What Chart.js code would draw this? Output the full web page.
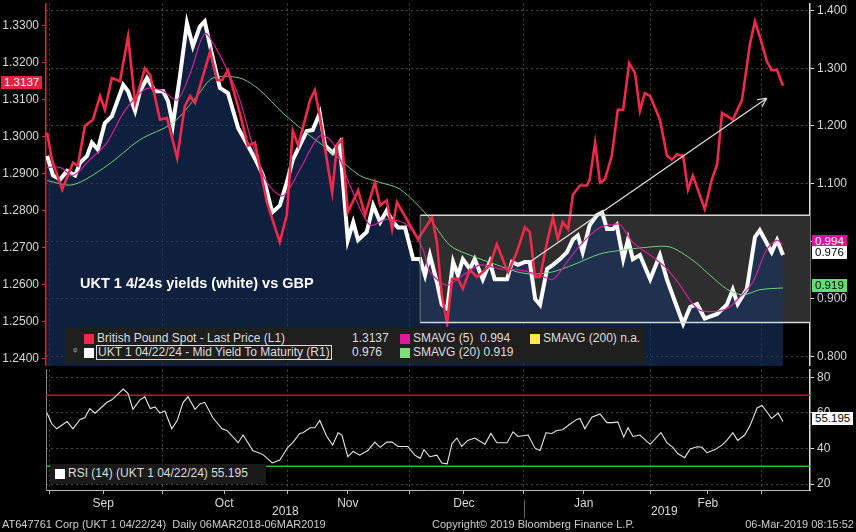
<!DOCTYPE html>
<html><head><meta charset="utf-8">
<script src="https://cdn.jsdelivr.net/npm/chart.js@4/dist/chart.umd.min.js"></script>
<style>
body{margin:0;background:#000;width:856px;height:532px;overflow:hidden;position:relative;font-family:"Liberation Sans",Arial,sans-serif;}
canvas{position:absolute;left:0;}
.t{position:absolute;white-space:nowrap;color:#ddd;font-size:12px;}
.sq{position:absolute;width:10px;height:10px;}
.tag{position:absolute;font-size:11.5px;padding:0 3px;line-height:13px;}
</style></head><body>
<canvas id="top" width="856" height="370" style="top:0"></canvas>
<canvas id="bot" width="856" height="166" style="top:366px"></canvas>

<div class="t" style="left:80px;top:275px;font-size:14.5px;font-weight:bold;color:#fff;">UKT 1 4/24s yields (white) vs GBP</div>

<div style="position:absolute;left:65px;top:327px;width:580px;height:36px;background:#1f1f1f;"></div>
<div class="sq" style="left:84px;top:334px;background:#f0284a"></div>
<div class="t" style="left:97px;top:331px;">British Pound Spot - Last Price (L1)</div>
<div class="t" style="left:352px;top:331px;">1.3137</div>
<div class="sq" style="left:400px;top:334px;background:#e0189e"></div>
<div class="t" style="left:413px;top:331px;">SMAVG (5)&nbsp;&nbsp;0.994</div>
<div class="sq" style="left:530px;top:334px;background:#ffe94a"></div>
<div class="t" style="left:543px;top:331px;">SMAVG (200) n.a.</div>
<div class="t" style="left:73px;top:345px;font-size:10px;color:#999;">ᵠ</div>
<div class="sq" style="left:84px;top:348px;background:#fff"></div>
<div class="t" style="left:96px;top:345px;border:1px solid #ddd;padding:0 1px;line-height:13px;">UKT 1 04/22/24 - Mid Yield To Maturity (R1)</div>
<div class="t" style="left:352px;top:345px;">0.976</div>
<div class="sq" style="left:400px;top:348px;background:#7be07b"></div>
<div class="t" style="left:413px;top:345px;">SMAVG (20) 0.919</div>

<div class="tag" style="left:1px;top:76px;background:#e8203c;color:#fff;">1.3137</div>
<div class="tag" style="left:812px;top:235px;background:#e0109a;color:#fff;">0.994</div>
<div class="tag" style="left:812px;top:246px;background:#fff;color:#000;">0.976</div>
<div class="tag" style="left:812px;top:279px;background:#5fdf6f;color:#000;">0.919</div>

<div style="position:absolute;left:50px;top:464px;width:216px;height:20px;background:#1a1a1a;"></div>
<div class="sq" style="left:55px;top:469px;background:#fff"></div>
<div class="t" style="left:68px;top:466px;">RSI (14) (UKT 1 04/22/24) 55.195</div>
<div class="tag" style="left:812px;top:412px;background:#fff;color:#000;">55.195</div>

<div class="t" style="left:272px;top:504px;font-size:12px;">2018</div>
<div class="t" style="left:651px;top:504px;font-size:12px;">2019</div>
<div style="position:absolute;left:524px;top:500px;width:1px;height:18px;background:#666"></div>
<div class="t" style="left:2px;top:518px;font-size:11px;color:#ccc;">AT647761 Corp (UKT 1 04/22/24)&nbsp;&nbsp;Daily 06MAR2018-06MAR2019</div>
<div class="t" style="left:432px;top:518px;font-size:11px;color:#ccc;">Copyright© 2019 Bloomberg Finance L.P.</div>
<div class="t" style="right:2px;top:518px;font-size:11px;color:#ccc;">06-Mar-2019 08:15:52</div>

<script>
// x values = trading-session index (Aug-29-2018 = 0)
const gbpX=[0.2,1.1,3.0,5.0,5.9,7.2,8.7,10.0,10.9,12.2,13.7,15.2,16.5,18.3,19.3,21.1,22.4,24.3,25.7,26.7,27.6,30.4,31.7,32.6,33.7,35.9,37.4,38.7,40.9,43.3,44.6,45.7,46.7,48.9,49.8,50.7,53.0,53.9,54.8,55.9,57.8,59.1,60.9,61.9,63.1,64.1,65.0,68.9,71.5,72.4,73.3,74.3,75.2,76.3,77.2,78.5,79.8,80.9,82.2,83.5,85.0,85.6,87.2,88.7,89.6,90.6,91.5,92.8,93.9,94.8,95.7,96.7,97.6,98.9,100.2,100.7,101.7,102.6,103.5,104.8,105.9,106.9,108.0,109.1,110.0,110.9,111.9,113.7,115.0,115.9,116.9,118.0,118.9,119.8,122.0,123.3,124.3,125.2,127.2,128.9,130.4,131.3,132.2,133.5,134.4,135.4,136.5];
const gbpY=[1.3010,1.2937,1.2856,1.2929,1.2921,1.3028,1.3045,1.3109,1.3072,1.3158,1.3149,1.3270,1.3090,1.3184,1.3166,1.3045,1.3050,1.2942,1.3082,1.3109,1.3090,1.3230,1.3152,1.3152,1.3179,1.3063,1.2975,1.2983,1.2822,1.2714,1.2787,1.3015,1.2975,1.3098,1.3125,1.3055,1.2848,1.2977,1.2991,1.2795,1.2854,1.2787,1.2875,1.2813,1.2827,1.2749,1.2822,1.2722,1.2781,1.2714,1.2571,1.2494,1.2615,1.2615,1.2588,1.2639,1.2620,1.2633,1.2652,1.2709,1.2652,1.2633,1.2687,1.2754,1.2741,1.2620,1.2620,1.2714,1.2781,1.2722,1.2768,1.2749,1.2843,1.2867,1.2867,1.2883,1.2983,1.2875,1.2883,1.2948,1.3072,1.3072,1.3198,1.3171,1.3069,1.3117,1.3109,1.3045,1.2948,1.2937,1.2951,1.2948,1.2856,1.2894,1.2803,1.2883,1.2924,1.3063,1.3045,1.3098,1.3252,1.3311,1.3270,1.3203,1.3179,1.3179,1.3137];
const ukX=[0.2,1.3,2.6,3.9,5.4,6.3,7.6,8.5,9.6,10.9,12.2,13.3,14.3,15.2,16.5,17.4,18.7,20.2,21.7,22.6,23.5,24.8,26.1,27.2,28.5,29.4,30.7,32.2,33.7,35.6,37.4,39.1,40.2,41.9,43.3,44.6,45.7,47.0,48.3,49.4,50.7,51.7,53.1,54.4,55.9,56.9,57.8,59.4,60.6,61.9,63.1,64.3,65.2,66.5,68.0,69.3,70.2,71.1,72.4,73.3,74.3,75.4,76.3,77.2,78.5,79.4,80.9,82.2,83.1,85.4,86.3,87.4,88.7,89.6,90.6,91.5,92.8,93.9,95.2,96.5,97.6,98.5,99.4,100.7,102.0,103.0,103.9,105.0,105.7,106.9,107.8,108.7,110.0,111.9,113.7,115.0,116.5,118.0,119.3,120.6,122.0,124.3,126.1,127.2,128.1,129.8,131.3,132.2,134.4,135.4,136.5];
const ukY=[1.148,1.114,1.107,1.122,1.114,1.136,1.148,1.171,1.159,1.205,1.217,1.245,1.271,1.260,1.226,1.260,1.283,1.260,1.260,1.243,1.202,1.286,1.378,1.338,1.372,1.381,1.326,1.266,1.257,1.196,1.166,1.136,1.114,1.050,1.062,1.102,1.141,1.166,1.191,1.193,1.222,1.166,1.153,1.171,1.002,1.033,1.002,1.016,1.062,1.033,1.053,1.033,1.024,1.024,0.969,0.969,0.941,0.976,0.929,0.890,0.883,0.964,0.941,0.969,0.952,0.969,0.934,0.964,0.934,0.934,0.964,0.959,0.964,0.964,0.900,0.890,0.952,0.959,0.969,0.981,1.003,1.010,0.981,1.028,1.045,1.050,1.021,1.021,1.028,0.969,1.003,0.969,0.976,0.934,0.976,0.934,0.895,0.857,0.886,0.891,0.866,0.874,0.890,0.916,0.891,0.917,1.007,1.019,0.981,1.002,0.976];
const sma5X=[0.2,2.6,5.0,8.1,11.3,14.3,17.4,19.3,21.7,24.3,26.7,29.4,31.7,34.1,35.9,38.3,40.9,43.9,47.0,50.7,53.1,56.3,60.0,63.1,66.9,69.8,71.1,74.3,77.2,80.4,84.1,87.8,91.5,93.9,96.5,99.4,102.6,105.0,106.3,108.7,111.9,115.0,117.4,120.6,123.0,126.1,128.5,130.9,133.5,135.4,136.5];
const sma5Y=[1.128,1.128,1.114,1.141,1.171,1.222,1.257,1.266,1.260,1.245,1.291,1.360,1.331,1.286,1.245,1.166,1.102,1.079,1.124,1.183,1.171,1.097,1.028,1.038,1.028,0.986,0.947,0.924,0.941,0.959,0.952,0.950,0.941,0.934,0.964,0.998,1.024,1.029,1.029,0.998,0.976,0.952,0.924,0.883,0.878,0.883,0.903,0.929,0.986,1.002,0.994];
const sma20X=[0.2,5.0,11.3,17.4,23.5,28.0,30.9,35.9,39.6,43.9,48.9,53.1,58.1,61.9,65.6,70.6,74.8,78.5,83.5,87.2,90.2,93.9,97.6,102.6,106.3,111.9,115.6,119.8,123.0,126.1,129.1,132.2,136.5];
const sma20Y=[1.105,1.098,1.131,1.176,1.205,1.252,1.283,1.283,1.262,1.222,1.183,1.153,1.114,1.102,1.090,1.045,0.993,0.976,0.959,0.947,0.943,0.947,0.959,0.978,0.984,0.990,0.990,0.967,0.941,0.917,0.907,0.916,0.919];
const rsiX=[0.2,1.1,2.0,3.9,5.0,6.3,7.2,8.1,9.1,11.3,12.2,14.3,15.2,16.1,17.4,18.3,19.3,20.2,21.1,22.0,23.3,24.3,25.4,26.3,27.6,28.5,29.4,30.9,32.6,33.5,35.6,36.5,38.3,40.2,41.9,43.3,44.8,45.7,47.0,47.6,48.9,49.8,50.7,52.0,53.1,54.1,54.8,55.9,56.9,58.1,59.6,60.9,61.9,63.1,64.1,65.2,67.0,68.3,69.3,70.0,71.1,72.4,73.3,74.3,75.2,76.1,77.0,78.1,79.4,81.3,82.4,83.5,85.4,86.5,87.4,89.3,90.6,91.5,92.6,93.7,94.6,95.7,97.0,98.3,98.9,99.8,101.1,102.6,103.9,105.0,105.9,107.0,107.8,108.7,110.0,111.9,113.9,115.0,116.1,117.0,118.3,119.3,120.6,121.5,122.4,123.9,125.2,126.1,127.2,128.1,129.4,130.4,131.7,132.6,133.5,134.4,135.6,136.5];
const rsiY=[59.9,53.8,51.1,55.2,51.1,56.4,57.3,62.5,59.9,66.0,67.4,73.5,70.9,62.1,67.4,69.1,62.5,63.4,59.9,61.1,51.1,55.8,66.0,69.1,62.1,65.1,66.0,57.3,51.1,50.2,43.3,47.6,38.9,36.6,31.9,33.6,40.7,43.3,48.5,48.9,51.7,51.7,55.8,46.8,41.9,48.9,47.6,35.4,38.4,36.3,38.9,43.6,40.7,43.6,43.6,41.2,41.2,36.3,34.5,39.4,35.4,36.3,31.9,31.4,42.9,45.9,41.2,44.6,45.9,42.4,48.5,43.3,43.3,49.4,46.8,47.6,40.1,38.9,48.9,48.5,50.2,50.6,53.7,56.4,56.9,51.1,57.6,59.5,54.6,54.6,55.0,46.4,51.7,46.8,47.6,42.4,48.9,43.3,40.7,37.2,34.9,39.8,41.0,40.7,37.7,39.4,41.9,44.6,48.9,44.6,47.6,52.9,62.8,64.2,60.7,56.9,59.9,55.195];
const monthBounds=[0.7,21.5,44.8,67.4,88.5,111.9,132.6];
const monthMids=[10.6,33.0,55.9,77.4,99.6,122.6];
const monthNames=['Sep','Oct','Nov','Dec','Jan','Feb'];
const leftTicks=[1.24,1.25,1.26,1.27,1.28,1.29,1.30,1.31,1.32,1.33];
const rightTicks=[0.8,0.9,1.0,1.1,1.2,1.3,1.4];
const rsiTicks=[20,40,60,80];
const boxRange={x0:69.3,top:1.045,bottom:0.859};
const arrowPts={x0:89.6,y0:0.964,x1:133.5,y1:1.248};
const rsiLevels={high:70,low:30};

const pts=(xs,ys)=>xs.map((x,i)=>({x,y:ys[i]}));
const XMIN=0,XMAX=141.5;
const fixW=w=>function(s){s.width=w;};
const tickFont={family:'"Liberation Sans",Arial',size:12,lineHeight:0.1};
const xFont={family:'"Liberation Sans",Arial',size:12};
const GRID='#4a4a4a';

const boxPlugin={id:'box',
 beforeDatasetsDraw(c){const x=c.scales.x,y=c.scales.y1,ctx=c.ctx;
  const l=x.getPixelForValue(boxRange.x0),r=c.chartArea.right,t=y.getPixelForValue(boxRange.top),b=y.getPixelForValue(boxRange.bottom);
  ctx.save();ctx.fillStyle='#2e2e2e';ctx.fillRect(l,t,r-l,b-t);ctx.restore();},
 afterDatasetsDraw(c){const x=c.scales.x,y=c.scales.y1,ctx=c.ctx;
  const l=x.getPixelForValue(boxRange.x0),r=c.chartArea.right,t=y.getPixelForValue(boxRange.top),b=y.getPixelForValue(boxRange.bottom);
  ctx.save();ctx.strokeStyle='#d8d8d8';ctx.lineWidth=1.5;
  ctx.beginPath();ctx.moveTo(l,t);ctx.lineTo(r,t);ctx.moveTo(l,b);ctx.lineTo(r,b);ctx.stroke();
  ctx.strokeStyle='#777';ctx.lineWidth=1;ctx.beginPath();ctx.moveTo(l,t);ctx.lineTo(l,b);ctx.stroke();
  const ax0=x.getPixelForValue(arrowPts.x0),ay0=y.getPixelForValue(arrowPts.y0),ax1=x.getPixelForValue(arrowPts.x1),ay1=y.getPixelForValue(arrowPts.y1);
  ctx.strokeStyle='#e0e0e0';ctx.lineWidth=1.2;ctx.beginPath();ctx.moveTo(ax0,ay0);ctx.lineTo(ax1,ay1);
  const a=Math.atan2(ay1-ay0,ax1-ax0);
  ctx.moveTo(ax1,ay1);ctx.lineTo(ax1-10*Math.cos(a-0.45),ay1-10*Math.sin(a-0.45));
  ctx.moveTo(ax1,ay1);ctx.lineTo(ax1-10*Math.cos(a+0.45),ay1-10*Math.sin(a+0.45));
  ctx.stroke();ctx.restore();}
};
const bg={id:'bg',beforeDraw(c){c.ctx.save();c.ctx.fillStyle='#000';c.ctx.fillRect(0,0,c.width,c.height);c.ctx.restore();}};

new Chart(document.getElementById('top'),{type:'line',
 data:{datasets:[
  {data:pts(sma20X,sma20Y),yAxisID:'y1',borderColor:'#6fcf7f',borderWidth:1,pointRadius:0,tension:0.3,order:3},
  {data:pts(sma5X,sma5Y),yAxisID:'y1',borderColor:'#d0209a',borderWidth:1.2,pointRadius:0,tension:0.3,order:2},
  {data:pts(ukX,ukY),yAxisID:'y1',borderColor:'#ffffff',borderWidth:4,pointRadius:0,fill:'start',backgroundColor:'rgba(22,52,98,0.62)',order:4},
  {data:pts(gbpX,gbpY),yAxisID:'y',borderColor:'#f0284a',borderWidth:2.6,pointRadius:0,order:1}
 ]},
 options:{responsive:false,animation:false,events:[],layout:{padding:0},
  plugins:{legend:{display:false},tooltip:{enabled:false}},
  scales:{
   x:{type:'linear',min:XMIN,max:XMAX,afterFit(s){s.height=0;},
     afterBuildTicks(s){s.ticks=monthBounds.map(v=>({value:v}));},
     ticks:{display:false},
     grid:{color:GRID,lineWidth:1,drawTicks:false},border:{display:false,dash:[2,3]}},
   y:{position:'left',min:1.2378,max:1.3359,afterFit:fixW(46),
     afterBuildTicks(s){s.ticks=leftTicks.map(v=>({value:v}));},
     ticks:{color:'#d8d8d8',font:tickFont,padding:3,callback:v=>v.toFixed(4)},
     grid:{display:true,drawOnChartArea:false,color:'#e8203c',tickLength:4},border:{color:'#e8203c',width:1.5}},
   y1:{position:'right',min:0.783,max:1.412,afterFit:fixW(46),
     afterBuildTicks(s){s.ticks=rightTicks.map(v=>({value:v}));},
     ticks:{color:'#d8d8d8',font:tickFont,padding:3,callback:v=>v.toFixed(3)},
     grid:{color:GRID,tickColor:'#ddd',tickLength:4},border:{color:'#ddd',width:1.5,dash:[2,3]}}
  }},
 plugins:[bg,boxPlugin]});

const rsiLines={id:'rl',beforeDatasetsDraw(c){const y=c.scales.y1,a=c.chartArea,ctx=c.ctx;ctx.save();ctx.lineWidth=1.5;
 ctx.strokeStyle='#c8102e';ctx.beginPath();ctx.moveTo(a.left,y.getPixelForValue(rsiLevels.high));ctx.lineTo(a.right,y.getPixelForValue(rsiLevels.high));ctx.stroke();
 ctx.strokeStyle='#1fbf2f';ctx.beginPath();ctx.moveTo(a.left,y.getPixelForValue(rsiLevels.low));ctx.lineTo(a.right,y.getPixelForValue(rsiLevels.low));ctx.stroke();ctx.restore();}};

new Chart(document.getElementById('bot'),{type:'line',
 data:{datasets:[{data:pts(rsiX,rsiY),yAxisID:'y1',borderColor:'#e8e8e8',borderWidth:1.1,pointRadius:0}]},
 options:{responsive:false,animation:false,events:[],layout:{padding:{top:2}},
  plugins:{legend:{display:false},tooltip:{enabled:false}},
  scales:{
   x:{type:'linear',min:XMIN,max:XMAX,afterFit(s){s.height=42;},
     afterBuildTicks(s){s.ticks=monthBounds.map(v=>({value:v})).concat(monthMids.map(v=>({value:v})));},
     ticks:{color:'#d8d8d8',font:xFont,padding:2,maxRotation:0,autoSkip:false,
       callback:(v)=>{const i=monthMids.indexOf(v);return i>=0?monthNames[i]:'';}},
     grid:{color:(ctx)=>monthMids.includes(ctx.tick&&ctx.tick.value)?'rgba(0,0,0,0)':GRID,tickColor:'#bbb',tickLength:4},
     border:{color:'#bbb',dash:[2,3]}},
   y:{position:'left',min:16.7,max:84.4,afterFit:fixW(46),ticks:{display:false},grid:{display:false},border:{color:'#888'}},
   y1:{position:'right',min:16.7,max:84.4,afterFit:fixW(46),
     afterBuildTicks(s){s.ticks=rsiTicks.map(v=>({value:v}));},
     ticks:{color:'#d8d8d8',font:tickFont,padding:3},
     grid:{color:GRID,tickColor:'#ddd',tickLength:4},border:{color:'#ddd',width:1.5,dash:[2,3]}}
  }},
 plugins:[bg,rsiLines]});
</script>
</body></html>
